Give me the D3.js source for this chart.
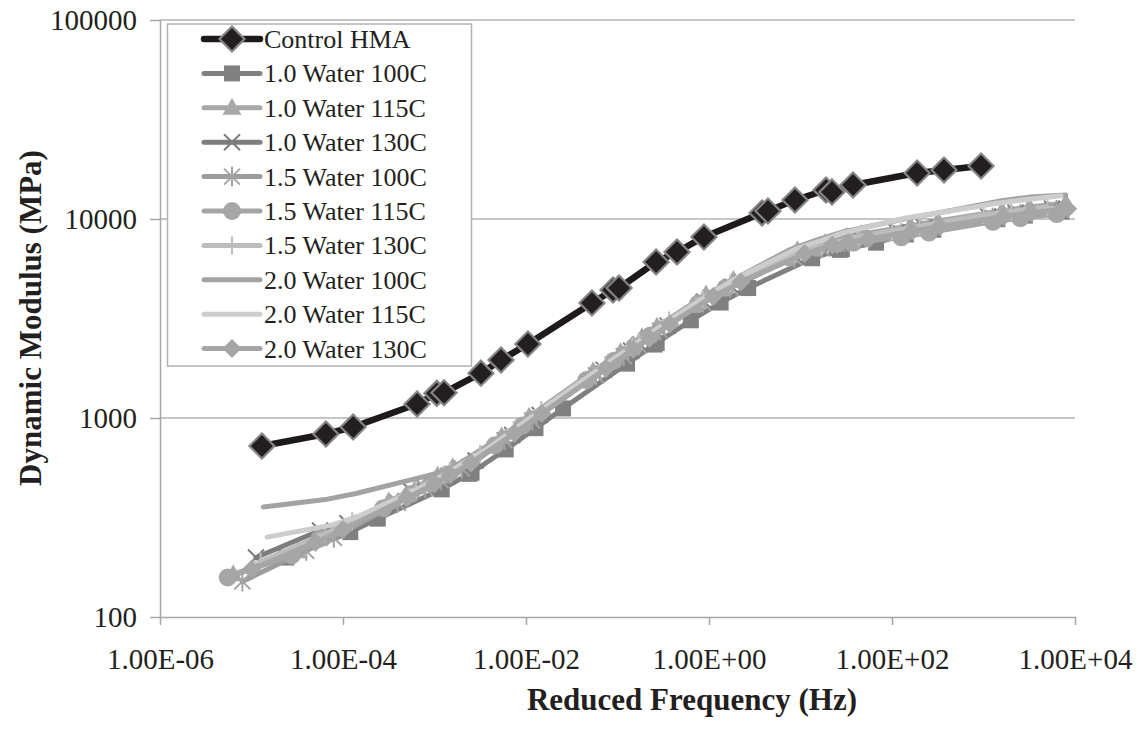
<!DOCTYPE html>
<html>
<head>
<meta charset="utf-8">
<script src="https://cdn.jsdelivr.net/npm/d3@7"></script>
<style>
  html, body { margin: 0; padding: 0; background: #ffffff; }
  svg { display: block; }
  svg text { font-family: "Liberation Serif", "Times New Roman", serif; fill: #231f20; }
</style>
</head>
<body>
<svg id="chart" width="1147" height="732"></svg>
<script>
// ---------------- DATA ----------------
const seriesNames = ["Control HMA", "1.0 Water 100C", "1.0 Water 115C", "1.0 Water 130C",
  "1.5 Water 100C", "1.5 Water 115C", "1.5 Water 130C",
  "2.0 Water 100C", "2.0 Water 115C", "2.0 Water 130C"];

const xTickValues = [1e-6, 1e-4, 1e-2, 1e0, 1e2, 1e4];
const xTickLabels = ["1.00E-06", "1.00E-04", "1.00E-02", "1.00E+00", "1.00E+02", "1.00E+04"];
const yTickValues = [100, 1000, 10000, 100000];
const yTickLabels = ["100", "1000", "10000", "100000"];

// Reduced frequency (Hz) and dynamic modulus (MPa) per series
const controlFreq = [1.30e-5, 6.50e-5, 1.29e-4, 6.45e-4, 1.27e-3, 3.22e-3, 1.06e-3, 5.33e-3, 1.05e-2, 5.26e-2, 0.104, 0.264,
  0.0893, 0.447, 0.881, 4.41, 8.71, 22.1, 3.80, 19.0, 37.5, 188, 370, 940];
const controlMod = [723, 831, 901, 1176, 1340, 1680, 1330, 1956, 2355, 3784, 4500, 6080,
  4400, 6825, 8125, 10970, 12450, 13680, 10720, 13990, 14830, 17030, 17630, 18450];

const w10t100Freq = [2.40e-5, 1.20e-4, 2.40e-4, 1.20e-3, 2.40e-3, 6.00e-3, 2.54e-3, 1.27e-2, 2.54e-2, 0.127, 0.254, 0.634,
  0.268, 1.34, 2.68, 13.4, 26.8, 67.0, 28.3, 141.6, 283, 1416, 2831, 7079];
const w10t100Mod = [199, 267, 312, 438, 524, 695, 531, 889, 1117, 1875, 2339, 3097,
  2382, 3802, 4498, 6353, 6998, 7603, 7047, 8356, 8831, 9977, 10399, 10901];

const w10t115Freq = [6.31e-6, 3.16e-5, 6.31e-5, 3.16e-4, 6.31e-4, 1.58e-3, 1.08e-3, 5.41e-3, 1.08e-2, 5.41e-2, 0.108, 0.270,
  0.185, 0.927, 1.85, 9.27, 18.5, 46.3, 31.8, 159, 318, 1589, 3177, 7943];
const w10t115Mod = [164, 214, 258, 380, 449, 564, 512, 807, 1014, 1718, 2143, 2871,
  2547, 4169, 4943, 6966, 7551, 8375, 8128, 9247, 9772, 11015, 11482, 12023];

const w10t130Freq = [1.12e-5, 5.61e-5, 1.12e-4, 5.61e-4, 1.12e-3, 2.81e-3, 1.41e-3, 7.06e-3, 1.41e-2, 7.06e-2, 0.141, 0.353,
  0.178, 0.889, 1.78, 8.89, 17.8, 44.5, 22.4, 112, 224, 1119, 2239, 5598];
const w10t130Mod = [199, 272, 296, 427, 482, 611, 512, 822, 1035, 1746, 2178, 2911,
  2344, 3846, 4571, 6457, 7161, 7980, 7396, 8590, 9078, 10304, 10740, 11272];

const w15t100Freq = [7.94e-6, 3.97e-5, 7.94e-5, 3.97e-4, 7.94e-4, 1.99e-3, 1.17e-3, 5.83e-3, 1.17e-2, 5.83e-2, 0.117, 0.292,
  0.171, 0.857, 1.71, 8.57, 17.1, 42.9, 25.2, 126, 252, 1259, 2518, 6295];
const w15t100Mod = [151, 215, 250, 375, 443, 558, 487, 773, 971, 1641, 2046, 2748,
  2317, 3802, 4529, 6412, 7129, 7962, 7516, 8472, 8954, 10139, 10568, 11092];

const w15t115Freq = [5.50e-6, 2.75e-5, 5.50e-5, 2.75e-4, 5.50e-4, 1.37e-3, 9.14e-4, 4.57e-3, 9.14e-3, 4.57e-2, 9.14e-2, 0.229,
  0.152, 0.760, 1.52, 7.60, 15.2, 38.0, 25.3, 126.5, 253, 1265, 2529, 6324];
const w15t115Mod = [158, 204, 247, 352, 415, 520, 469, 729, 916, 1552, 1941, 2600,
  2280, 3750, 4508, 6397, 7161, 7603, 7516, 8091, 8551, 9683, 10093, 10593];

const w15t130Freq = [1.26e-5, 6.29e-5, 1.26e-4, 6.29e-4, 1.26e-3, 3.15e-3, 1.47e-3, 7.35e-3, 1.47e-2, 7.35e-2, 0.147, 0.367,
  0.171, 0.857, 1.71, 8.57, 17.1, 42.9, 20.0, 100, 200, 1000, 2000, 5000];
const w15t130Mod = [190, 261, 303, 439, 520, 661, 541, 873, 1096, 1849, 2307, 3090,
  2427, 3981, 4742, 6714, 7295, 8147, 7447, 8710, 9204, 10471, 10914, 11482];

const w20t100Freq = [1.35e-5, 6.75e-5, 1.35e-4, 6.75e-4, 1.35e-3, 3.37e-3, 1.43e-3, 7.13e-3, 1.43e-2, 7.13e-2, 0.143, 0.356,
  0.151, 0.753, 1.51, 7.53, 15.1, 37.7, 31.6, 158, 316, 1581, 3162, 7907];
const w20t100Mod = [357, 391, 416, 500, 542, 659, 550, 843, 1062, 1791, 2234, 2992,
  2275, 3828, 4710, 6998, 7852, 8831, 8710, 10139, 10715, 12359, 12882, 13200];

const w20t115Freq = [1.48e-5, 7.40e-5, 1.48e-4, 7.40e-4, 1.48e-3, 3.70e-3, 1.64e-3, 8.18e-3, 1.64e-2, 8.18e-2, 0.164, 0.409,
  0.181, 0.906, 1.81, 9.06, 18.1, 45.3, 28.2, 141, 282, 1409, 2818, 7047];
const w20t115Mod = [252, 289, 321, 451, 542, 695, 557, 904, 1138, 1914, 2388, 3192,
  2472, 4046, 4920, 7096, 7870, 8954, 8472, 10116, 10617, 11995, 12503, 13092];

const w20t130Freq = [1.00e-5, 5.00e-5, 1.00e-4, 5.00e-4, 1.00e-3, 2.50e-3, 1.49e-3, 7.46e-3, 1.49e-2, 7.46e-2, 0.149, 0.373,
  0.223, 1.11, 2.23, 11.1, 22.3, 55.7, 33.3, 166, 333, 1663, 3327, 8318];
const w20t130Mod = [174, 237, 275, 396, 468, 593, 519, 838, 1052, 1774, 2218, 2965,
  2518, 4083, 4831, 6714, 7396, 7943, 7621, 8670, 9162, 10304, 10740, 11246];

// ---------------- STYLES ----------------
const styles = [
  { line: "#1e1a1b", width: 6.5, marker: "bigdiamond", fill: "#231f20", stroke: "#858585" },
  { line: "#808080", width: 5, marker: "square", fill: "#808080", stroke: "none" },
  { line: "#a8a8a8", width: 5, marker: "triangle", fill: "#a8a8a8", stroke: "none" },
  { line: "#7d7d7d", width: 5, marker: "x", fill: "none", stroke: "#7d7d7d" },
  { line: "#9c9c9c", width: 5, marker: "star", fill: "none", stroke: "#a3a3a3" },
  { line: "#a6a6a6", width: 5, marker: "circle", fill: "#a6a6a6", stroke: "none" },
  { line: "#bdbdbd", width: 5, marker: "plus", fill: "none", stroke: "#bdbdbd" },
  { line: "#a3a3a3", width: 5, marker: "none" },
  { line: "#cdcdcd", width: 5, marker: "none" },
  { line: "#a6a6a6", width: 5, marker: "diamond", fill: "#a6a6a6", stroke: "none" }
];

const seriesData = [
  [controlFreq, controlMod], [w10t100Freq, w10t100Mod], [w10t115Freq, w10t115Mod], [w10t130Freq, w10t130Mod],
  [w15t100Freq, w15t100Mod], [w15t115Freq, w15t115Mod], [w15t130Freq, w15t130Mod],
  [w20t100Freq, w20t100Mod], [w20t115Freq, w20t115Mod], [w20t130Freq, w20t130Mod]
];

const markerPaths = {
  bigdiamond: "M0,-12.5L12.5,0L0,12.5L-12.5,0Z",
  square: "M-8,-8L8,-8L8,8L-8,8Z",
  triangle: "M0,-10L9.5,7L-9.5,7Z",
  x: "M-8,-8L8,8M-8,8L8,-8",
  star: "M-8,-8L8,8M-8,8L8,-8M0,-10L0,10",
  plus: "M-8,0L8,0M0,-9L0,9",
  diamond: "M0,-9.5L9.5,0L0,9.5L-9.5,0Z"
};

// ---------------- CHART ----------------
const svg = d3.select("#chart");
const x = d3.scaleLog().domain([1e-6, 1e4]).range([160, 1075]);
const y = d3.scaleLog().domain([100, 100000]).range([617, 20]);
const serif = "'Liberation Serif', 'Times New Roman', serif";

// gridlines
svg.append("g").selectAll("line").data(yTickValues.slice(1)).join("line")
  .attr("x1", 160).attr("x2", 1075)
  .attr("y1", d => y(d)).attr("y2", d => y(d))
  .attr("stroke", "#b3b3b3").attr("stroke-width", 1.5);

// axes
const yAxis = svg.append("g").attr("transform", "translate(160,0)")
  .call(d3.axisLeft(y).tickValues(yTickValues).tickFormat((d, i) => yTickLabels[i]).tickSize(10).tickSizeOuter(0).tickPadding(13));
const xAxis = svg.append("g").attr("transform", "translate(0,617)")
  .call(d3.axisBottom(x).tickValues(xTickValues).tickFormat((d, i) => xTickLabels[i]).tickSize(8).tickSizeOuter(0).tickPadding(23));
[yAxis, xAxis].forEach(g => {
  g.attr("font-family", null).attr("font-size", null);
  g.select(".domain").attr("stroke", "#a6a6a6").attr("stroke-width", 1.5);
  g.selectAll(".tick line").attr("stroke", "#a6a6a6").attr("stroke-width", 1.5);
  g.selectAll(".tick text").style("font-family", serif).style("font-size", "29px").style("fill", "#231f20");
});

// series
const line = d3.line().x(d => x(d[0])).y(d => y(d[1]));
function drawMarker(g, st, px, py) {
  if (st.marker === "none") return;
  if (st.marker === "circle") {
    g.append("circle").attr("cx", px).attr("cy", py).attr("r", 9).attr("fill", st.fill);
    return;
  }
  const isStroke = ["x", "star", "plus"].includes(st.marker);
  g.append("path").attr("d", markerPaths[st.marker])
    .attr("transform", `translate(${px},${py})`)
    .attr("fill", isStroke ? "none" : st.fill)
    .attr("stroke", st.stroke)
    .attr("stroke-width", isStroke ? 2 : (st.marker === "bigdiamond" ? 2.2 : 0));
}

seriesData.forEach((sd, i) => {
  const st = styles[i];
  const pts = d3.zip(sd[0], sd[1]).sort((a, b) => a[0] - b[0]);
  const g = svg.append("g");
  g.append("path").datum(pts).attr("d", line)
    .attr("fill", "none").attr("stroke", st.line).attr("stroke-width", st.width)
    .attr("stroke-linejoin", "round").attr("stroke-linecap", "round");
  pts.forEach(p => drawMarker(g, st, x(p[0]), y(p[1])));
});

// legend
const lg = svg.append("g");
lg.append("rect").attr("x", 167.5).attr("y", 24).attr("width", 304).attr("height", 342)
  .attr("fill", "#ffffff").attr("stroke", "#b3b3b3").attr("stroke-width", 1.5);
seriesNames.forEach((name, i) => {
  const st = styles[i];
  const cy = 39 + i * 34.4;
  lg.append("line").attr("x1", 204).attr("x2", 260).attr("y1", cy).attr("y2", cy)
    .attr("stroke", st.line).attr("stroke-width", st.width).attr("stroke-linecap", "round");
  drawMarker(lg, st, 232, cy);
  lg.append("text").attr("x", 264).attr("y", cy + 9)
    .style("font-family", serif).style("font-size", "26px").text(name);
});

// axis titles
svg.append("text").attr("x", 692).attr("y", 710).attr("text-anchor", "middle")
  .style("font-family", serif).style("font-weight", "bold").style("font-size", "31px")
  .text("Reduced Frequency (Hz)");
svg.append("text").attr("transform", "translate(41,318) rotate(-90)").attr("text-anchor", "middle")
  .style("font-family", serif).style("font-weight", "bold").style("font-size", "31px")
  .text("Dynamic Modulus (MPa)");
</script>
</body>
</html>
